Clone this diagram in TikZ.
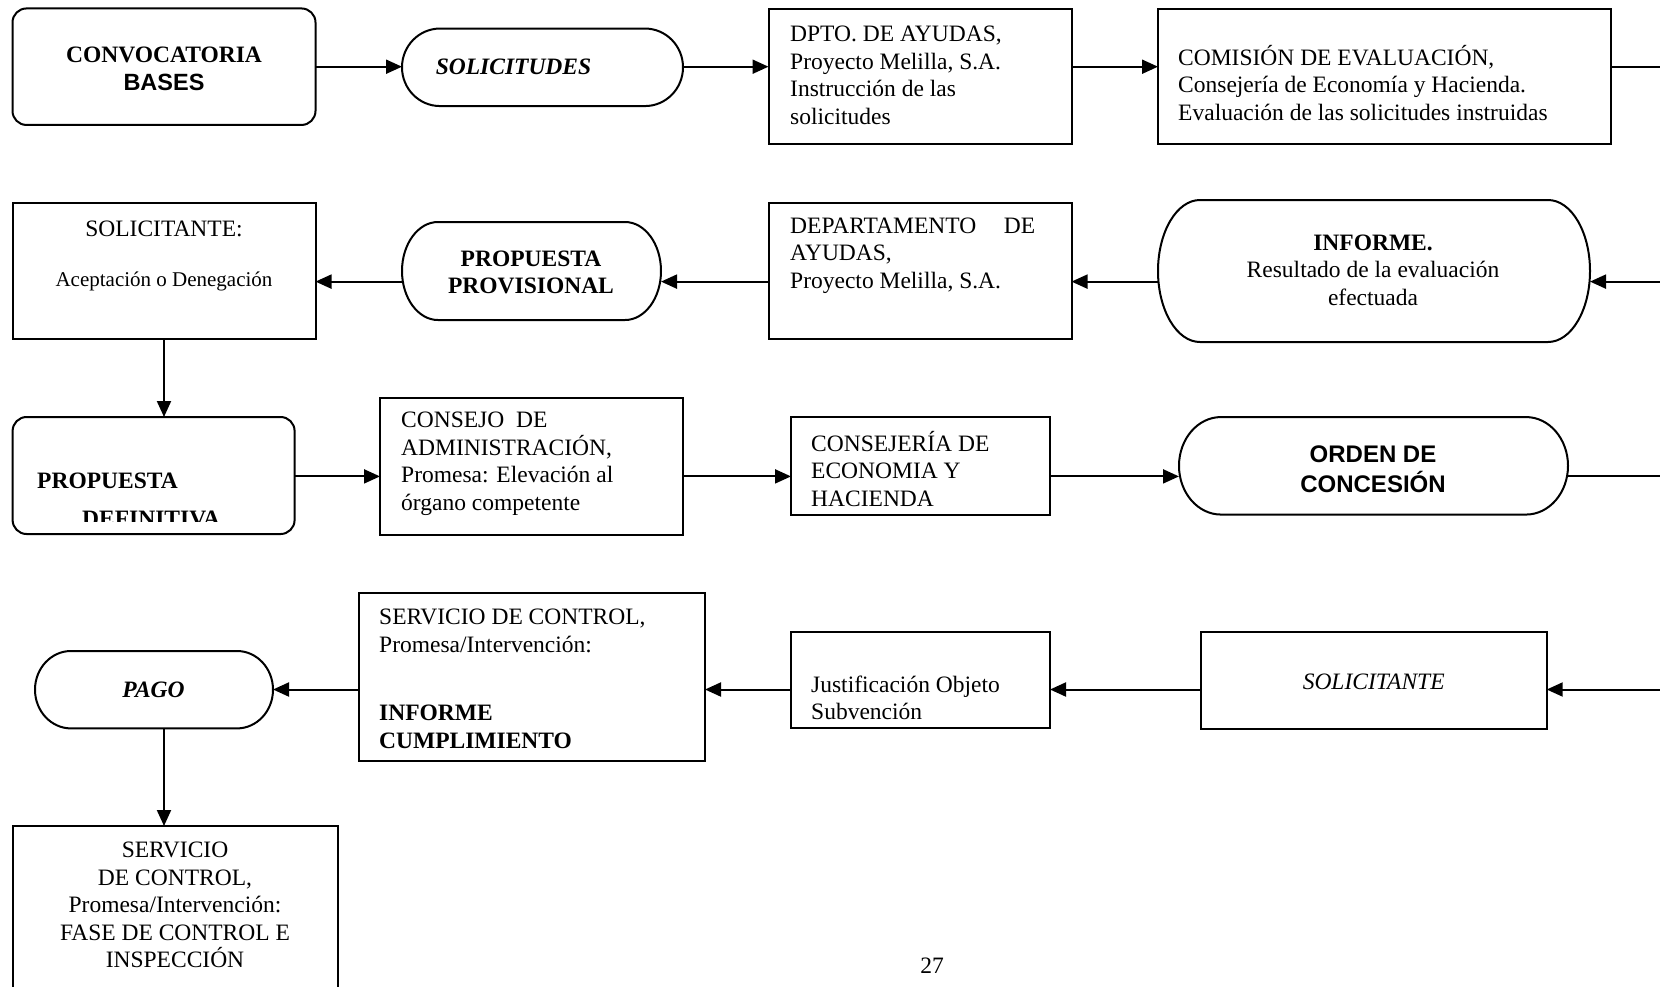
\documentclass[tikz,border=0pt]{standalone}
\usepackage{fontspec}
\setmainfont{Liberation Serif}
\newfontfamily\sansbf{Liberation Sans}
\usetikzlibrary{arrows.meta}

\tikzset{
  base/.style={rectangle, inner sep=0pt, outer sep=0pt},
  framebox/.style={base, draw, line width=2pt},
  roundbox/.style={framebox, rounded corners=14pt},
  pillbox/.style={base, draw=none},
  outline/.style={draw, line width=2pt},
  conn/.style={line width=2pt, -{Triangle[length=16pt,width=14pt]}},
  plain/.style={line width=2pt},
  txt/.style={inner sep=0pt, font=\fontsize{23.5}{27.5}\selectfont},
  ltxt/.style={txt, anchor=west, align=left},
  ctxt/.style={txt, align=center},
}

% outline of a terminal: flat top and bottom, half-ellipse ends
\newcommand\drawpill[3]{%
  \draw[outline] ([xshift=#2pt]#1.north west) -- ([xshift=-#2pt]#1.north east)
    arc[start angle=90, end angle=-90, x radius=#2pt, y radius=#3pt]
    -- ([xshift=#2pt]#1.south west)
    arc[start angle=270, end angle=90, x radius=#2pt, y radius=#3pt] -- cycle;}

\begin{document}
\begin{tikzpicture}[x=1pt, y=-1pt]
\useasboundingbox (0,0) rectangle (1660,986);
\clip (0,0) rectangle (1660,986);

% heights of the four horizontal flows
\coordinate (rowA) at (0,66.7);
\coordinate (rowB) at (0,281.6);
\coordinate (rowC) at (0,476.4);
\coordinate (rowD) at (0,689.5);
\coordinate (edgeA) at (1660,66.7);
\coordinate (edgeB) at (1660,281.6);
\coordinate (edgeC) at (1660,476.4);
\coordinate (edgeD) at (1660,689.5);

% ---------- first row ----------
\node[roundbox, minimum width=303pt, minimum height=116.5pt] (conv) at (164,66.7) {};
\node[ctxt] (convT) at (164,69) {\bfseries CONVOCATORIA\\[0.5pt]{\sansbf\bfseries BASES}};

\node[pillbox, minimum width=281pt, minimum height=77.5pt] (solic) at (542.5,67.3) {};
\drawpill{solic}{38}{38.75}
\node[txt] (solicT) at (513.5,67) {\bfseries\itshape SOLICITUDES};

\node[framebox, minimum width=303pt, minimum height=135.5pt] (dpto) at (920,76.25) {};
\node[ltxt] (dptoT) at (790,75.5) {DPTO. DE AYUDAS,\\Proyecto Melilla, S.A.\\Instrucción de las\\solicitudes};

\node[framebox, minimum width=453pt, minimum height=135.5pt] (comis) at (1384.5,76.25) {};
\node[ltxt] (comisT) at (1178,82.6) {COMISIÓN DE EVALUACIÓN,\\Consejería de Economía y Hacienda.\\Evaluación de las solicitudes instruidas};

\draw[conn] (conv.east |- rowA) -- (solic.west |- rowA);
\draw[conn] (solic.east |- rowA) -- (dpto.west |- rowA);
\draw[conn] (dpto.east |- rowA) -- (comis.west |- rowA);
\draw[plain] (comis.east |- rowA) -- (edgeA);

% ---------- second row ----------
\node[pillbox, minimum width=432pt, minimum height=142pt] (inf) at (1374,271) {};
\drawpill{inf}{42}{71}
\node[ctxt] (infT) at (1373,270) {\bfseries INFORME.\\Resultado de la evaluación\\efectuada};

\node[framebox, minimum width=303pt, minimum height=136pt] (dep) at (920,271) {};
\node[ltxt] (depT) at (790,255.6) {\hbox to 245pt{DEPARTAMENTO\hfill DE}\\AYUDAS,\\Proyecto Melilla, S.A.};

\node[pillbox, minimum width=259pt, minimum height=98pt] (prov) at (531.5,271) {};
\drawpill{prov}{36}{49}
\node[ctxt] (provT) at (531,272.5) {\bfseries PROPUESTA\\\bfseries PROVISIONAL};

\node[framebox, minimum width=303pt, minimum height=136pt] (sol) at (164,271) {};
\node[txt] (solT1) at (164,229) {SOLICITANTE:};
\node[txt, font=\fontsize{21}{25}\selectfont] (solT2) at (164,281.6) {Aceptación o Denegación};

\draw[conn] (edgeB) -- (inf.east |- rowB);
\draw[conn] (inf.west |- rowB) -- (dep.east |- rowB);
\draw[conn] (dep.west |- rowB) -- (prov.east |- rowB);
\draw[conn] (prov.west |- rowB) -- (sol.east |- rowB);

% ---------- third row ----------
\node[roundbox, minimum width=282pt, minimum height=117pt] (defin) at (153.6,475.5) {};
\node[txt, anchor=base west] (definT1) at (37,488) {\bfseries PROPUESTA};
\begin{scope}
  \clip (20,500) rectangle (290,521);
  \node[txt, anchor=base west] (definT2) at (82,526) {\bfseries DEFINITIVA};
\end{scope}

\node[framebox, minimum width=303pt, minimum height=136.6pt] (cons) at (531.5,466.3) {};
\node[ltxt] (consT) at (401,463.7) {CONSEJO\ \ DE\\ADMINISTRACIÓN,\\Promesa: Elevación al\\órgano competente};

\node[framebox, minimum width=259pt, minimum height=97.5pt] (cje) at (920.5,465.8) {};
\node[ltxt] (cjeT) at (811,469) {CONSEJERÍA DE\\ECONOMIA Y\\HACIENDA};

\node[pillbox, minimum width=389pt, minimum height=97.5pt] (orden) at (1373.5,465.8) {};
\drawpill{orden}{42}{48.75}
\node[ctxt, font=\sansbf\bfseries\fontsize{24}{30}\selectfont] (ordenT) at (1373,469) {ORDEN DE\\CONCESIÓN};

\draw[conn] (sol.south) -- (sol.south |- defin.north);
\draw[conn] (defin.east |- rowC) -- (cons.west |- rowC);
\draw[conn] (cons.east |- rowC) -- (cje.west |- rowC);
\draw[conn] (cje.east |- rowC) -- (orden.west |- rowC);
\draw[plain] (orden.east |- rowC) -- (edgeC);

% ---------- fourth row ----------
\node[framebox, minimum width=346pt, minimum height=97.3pt] (sol2) at (1373.7,680.4) {};
\node[txt] (sol2T) at (1373.7,682) {\itshape SOLICITANTE};

\node[framebox, minimum width=259pt, minimum height=96.4pt] (just) at (920.5,680.2) {};
\node[ltxt] (justT) at (811,698) {Justificación Objeto\\Subvención};

\node[framebox, minimum width=346pt, minimum height=168pt] (serv) at (532,677) {};
\node[ltxt] (servT1) at (379,631) {SERVICIO DE CONTROL,\\Promesa/Intervención:};
\node[ltxt] (servT2) at (379,727) {\bfseries INFORME\\\bfseries CUMPLIMIENTO};

\node[pillbox, minimum width=238pt, minimum height=77.4pt] (pago) at (154,689.7) {};
\drawpill{pago}{36}{38.7}
\node[txt] (pagoT) at (153.5,689.5) {\bfseries\itshape PAGO};

\draw[conn] (edgeD) -- (sol2.east |- rowD);
\draw[conn] (sol2.west |- rowD) -- (just.east |- rowD);
\draw[conn] (just.west |- rowD) -- (serv.east |- rowD);
\draw[conn] (serv.west |- rowD) -- (pago.east |- rowD);

% ---------- final step ----------
\node[framebox, minimum width=325pt, minimum height=200pt] (ctrl) at (175.2,926) {};
\node[ctxt] (ctrlT) at (175,905) {SERVICIO\\DE CONTROL,\\Promesa/Intervención:\\FASE DE CONTROL E\\INSPECCIÓN};
\draw[conn] (sol.south |- pago.south) -- (sol.south |- ctrl.north);

% page number
\node[txt] (pnum) at (932,965.5) {27};
\end{tikzpicture}
\end{document}
